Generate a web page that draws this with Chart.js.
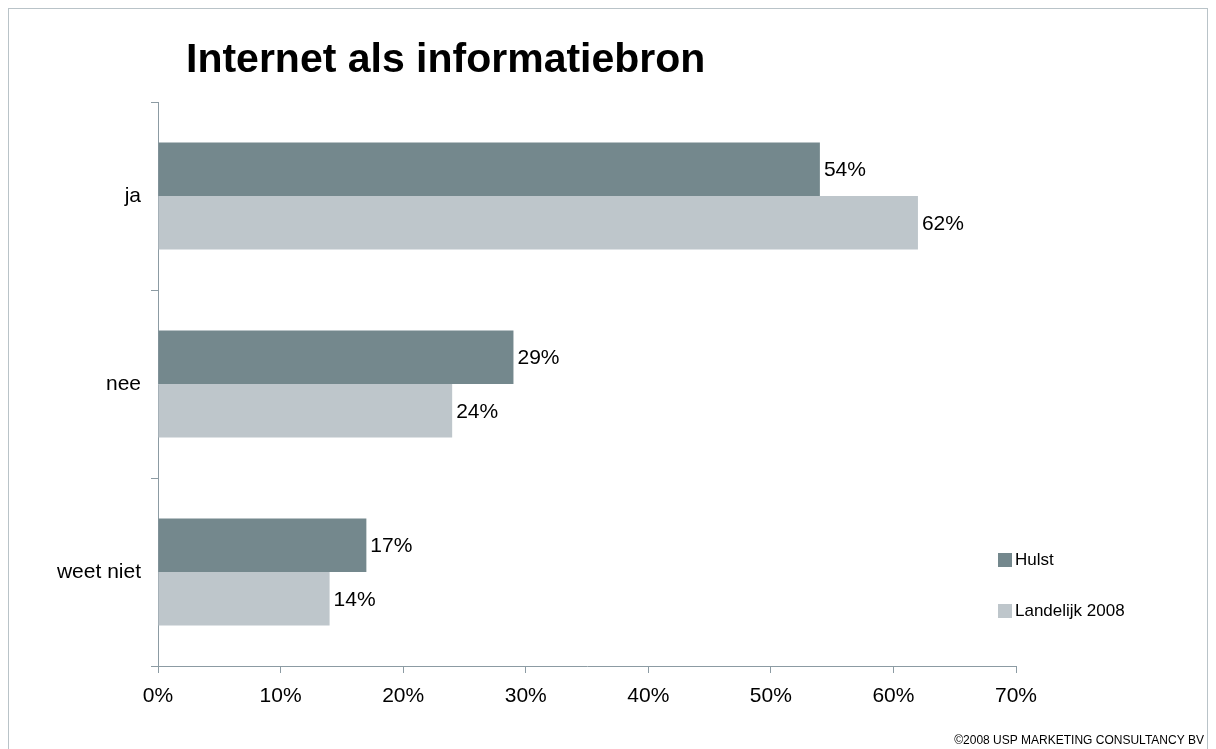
<!DOCTYPE html>
<html>
<head>
<meta charset="utf-8">
<script src="https://cdn.jsdelivr.net/npm/chart.js@4/dist/chart.umd.min.js"></script>
<style>
  html, body { margin: 0; padding: 0; background: #fff; }
  #wrap { position: relative; width: 1216px; height: 749px; overflow: hidden; }
  #frame { position: absolute; left: 8px; top: 8px; width: 1200px; height: 760px;
           border: 1px solid #b9c3c8; box-sizing: border-box; pointer-events: none; }
  canvas { position: absolute; left: 0; top: 0; }
</style>
</head>
<body>
<div id="wrap">
  <canvas id="chart" width="1216" height="749"></canvas>
  <div id="frame"></div>
</div>
<script>
const categories = ['ja', 'nee', 'weet niet'];
const hulst = [54, 29, 17];
const landelijk = [62, 24, 14];
const seriesNames = ['Hulst', 'Landelijk 2008'];
const xTicks = [0, 10, 20, 30, 40, 50, 60, 70];

const DARK = '#74888d';
const LIGHT = '#bec6cb';
const AXIS = '#8c9ba3';
const FONT = '"Liberation Sans", Arial, sans-serif';

// title, legend, footer and value labels
const decorations = {
    id: 'decorations',
    afterDraw(chart){
        const ctx = chart.ctx;
        ctx.save();
        ctx.fillStyle = '#000';
        ctx.textBaseline = 'alphabetic';
        ctx.textAlign = 'left';
        ctx.font = 'bold 41px ' + FONT;
        ctx.fillText('Internet als informatiebron', 186, 72);

        // value labels at the end of each bar
        ctx.font = '21px ' + FONT;
        ctx.textBaseline = 'middle';
        chart.data.datasets.forEach((ds, i) => {
            chart.getDatasetMeta(i).data.forEach((bar, j) => {
                ctx.fillText(ds.data[j] + '%', bar.x + 4, bar.y + 1);
            });
        });

        // legend
        const legendY = [560, 611];
        ctx.font = '17px ' + FONT;
        chart.data.datasets.forEach((ds, i) => {
            ctx.fillStyle = ds.backgroundColor;
            ctx.fillRect(998, legendY[i] - 7, 14, 14);
            ctx.fillStyle = '#000';
            ctx.fillText(ds.label, 1015, legendY[i]);
        });

        ctx.font = '12px ' + FONT;
        ctx.textAlign = 'right';
        ctx.textBaseline = 'alphabetic';
        ctx.fillText('\u00a92008 USP MARKETING CONSULTANCY BV', 1204, 744);
        ctx.restore();
    }
};

new Chart(document.getElementById('chart'), {
    type: 'bar',
    data: {
        labels: categories,
        datasets: [
            { label: seriesNames[0], data: hulst, backgroundColor: DARK },
            { label: seriesNames[1], data: landelijk, backgroundColor: LIGHT }
        ]
    },
    options: {
        indexAxis: 'y',
        responsive: false,
        animation: false,
        events: [],
        layout: { padding: { left: 0, right: 200, top: 102, bottom: 0 } },
        datasets: { bar: { categoryPercentage: 0.57, barPercentage: 1.0 } },
        plugins: {
            legend: { display: false },
            title: { display: false },
            tooltip: { enabled: false }
        },
        scales: {
            x: {
                min: 0,
                max: 70,
                afterBuildTicks: (scale) => { scale.ticks = xTicks.map(v => ({ value: v })); },
                afterFit: (scale) => { scale.height = 83; },
                border: { display: true, color: AXIS, width: 1 },
                grid: { drawOnChartArea: false, drawTicks: true, tickLength: 7, color: AXIS },
                ticks: {
                    color: '#000',
                    font: { family: FONT, size: 21 },
                    padding: 11,
                    maxRotation: 0,
                    callback: (v) => v + '%'
                }
            },
            y: {
                afterFit: (scale) => { scale.width = 158; },
                border: { display: true, color: AXIS, width: 1 },
                grid: { offset: true, drawOnChartArea: false, drawTicks: true, tickLength: 7, color: AXIS },
                ticks: {
                    color: '#000',
                    font: { family: FONT, size: 21 },
                    padding: 10
                }
            }
        }
    },
    plugins: [decorations]
});
</script>
</body>
</html>
